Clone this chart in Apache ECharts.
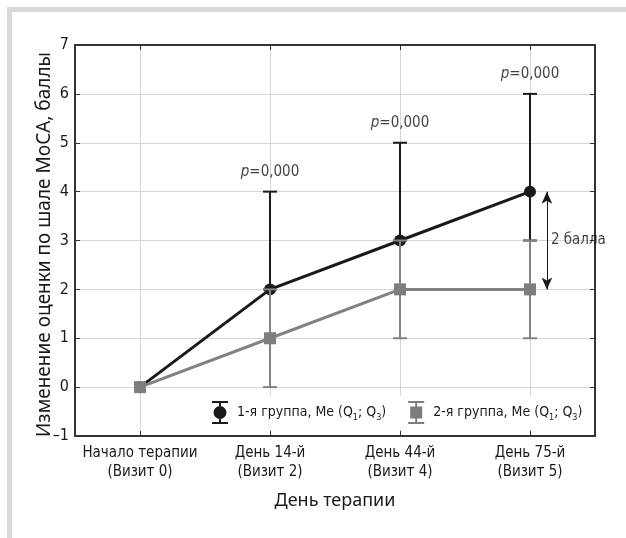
<!DOCTYPE html>
<html>
<head>
<meta charset="utf-8">
<script src="https://cdn.jsdelivr.net/npm/echarts@6/dist/echarts.min.js"></script>
<style>
    html, body { margin: 0; padding: 0; background: #fff; }
    #chart { width: 626px; height: 538px; }
</style>
</head>
<body>
<div id="chart"></div>
<script>
    // данные
    var days = ['Начало терапии\n(Визит 0)', 'День 14-й\n(Визит 2)', 'День 44-й\n(Визит 4)', 'День 75-й\n(Визит 5)'];
    var dayPos = [0, 1, 2, 3];
    var group1Me = [0, 2, 3, 4];
    var group1Q1 = [0, 2, 3, 3];
    var group1Q3 = [0, 4, 5, 6];
    var group2Me = [0, 1, 2, 2];
    var group2Q1 = [0, 0, 1, 1];
    var group2Q3 = [0, 2, 3, 3];
    var pValues = [null, '0,000', '0,000', '0,000'];
    var group1Name = '1-я группа, Me (Q1; Q3)';
    var group2Name = '2-я группа, Me (Q1; Q3)';

    var narrow = '"DejaVu Sans Condensed", "Liberation Sans Narrow", sans-serif';
    var regular = '"Noto Sans", "Open Sans", sans-serif';
    var black = '#1a1a1a';
    var gray = '#828282';

    function errData(me, q1, q3) {
        var res = [];
        for (var i = 0; i < me.length; i++) {
            res.push([dayPos[i], q1[i], q3[i]]);
        }
        return res;
    }

    function errRender(color) {
        return function (params, api) {
            var x = api.value(0);
            var lo = api.coord([x, api.value(1)]);
            var hi = api.coord([x, api.value(2)]);
            if (lo[1] - hi[1] < 1) return;
            var w = 7;
            var st = { stroke: color, lineWidth: 2 };
            return {
                type: 'group',
                children: [
                    { type: 'line', shape: { x1: lo[0], y1: lo[1], x2: hi[0], y2: hi[1] }, style: st },
                    { type: 'line', shape: { x1: lo[0] - w, y1: lo[1], x2: lo[0] + w, y2: lo[1] }, style: st },
                    { type: 'line', shape: { x1: hi[0] - w, y1: hi[1], x2: hi[0] + w, y2: hi[1] }, style: st }
                ]
            };
        };
    }

    function pairs(arr) {
        return arr.map(function (v, i) { return [dayPos[i], v]; });
    }

    var pData = [];
    for (var i = 0; i < pValues.length; i++) {
        if (pValues[i] != null) pData.push({ value: [dayPos[i], group1Q3[i]], pv: pValues[i] });
    }

    var icon1 = 'path://M0,0H16V2H0Z M0,21H16V23H0Z M7,2H9V5H7Z M7,18H9V21H7Z M1.5,11.5A6.5,6.5 0 1,0 14.5,11.5A6.5,6.5 0 1,0 1.5,11.5Z';
    var icon2 = 'path://M0,0H16V2H0Z M0,21H16V23H0Z M7,2H9V5.5H7Z M7,17.5H9V21H7Z M2,5.5H14V17.5H2Z';

    var axisLineStyle = { color: '#333', width: 2 };
    var tickStyle = { show: true, inside: true, length: 5, lineStyle: { color: '#333', width: 1 } };

    var chart = echarts.init(document.getElementById('chart'));
    chart.setOption({
        animation: false,
        graphic: [
            { type: 'rect', shape: { x: 7, y: 7, width: 619, height: 5 }, style: { fill: '#d9d9d9' } },
            { type: 'rect', shape: { x: 7, y: 7, width: 5, height: 531 }, style: { fill: '#d9d9d9' } }
        ],
        grid: { left: 75, top: 45, right: 31, bottom: 102 },
        legend: {
            left: 205,
            top: 396,
            width: 400,
            orient: 'horizontal',
            padding: [5, 6, 5, 7],
            backgroundColor: '#fff',
            itemWidth: 16,
            itemHeight: 23,
            itemGap: 22,
            itemStyle: { borderWidth: 0 },
            data: [
                { name: group1Name, icon: icon1 },
                { name: group2Name, icon: icon2 }
            ],
            formatter: function (name) {
                return name.replace(/Q(\d)/g, 'Q{s|$1}');
            },
            textStyle: {
                fontFamily: narrow,
                fontSize: 14,
                color: '#1a1a1a',
                lineHeight: 20,
                padding: [0, 0, 0, 4],
                rich: {
                    s: { fontFamily: narrow, fontSize: 9, verticalAlign: 'bottom', lineHeight: 12, color: '#1a1a1a' }
                }
            }
        },
        xAxis: [
            {
                type: 'value', position: 'bottom', min: -0.5, max: 3.5,
                name: 'День терапии', nameLocation: 'middle', nameGap: 56, nameMoveOverlap: false,
                nameTextStyle: { fontFamily: regular, fontSize: 18, color: '#1a1a1a' },
                axisLine: { show: true, onZero: false, lineStyle: axisLineStyle },
                axisTick: Object.assign({ customValues: dayPos }, tickStyle),
                axisLabel: {
                    customValues: dayPos,
                    formatter: function (v) { return days[Math.round(v)]; },
                    fontFamily: narrow, fontSize: 15, color: '#1a1a1a', lineHeight: 19, margin: 8
                },
                splitLine: { show: true, lineStyle: { color: '#d6d6d6', width: 1 } }
            },
            {
                type: 'value', position: 'top', min: -0.5, max: 3.5,
                axisLine: { show: true, onZero: false, lineStyle: axisLineStyle },
                axisTick: Object.assign({ customValues: dayPos }, tickStyle),
                axisLabel: { show: false },
                splitLine: { show: false }
            }
        ],
        yAxis: [
            {
                type: 'value', position: 'left', min: -1, max: 7, interval: 1,
                name: 'Изменение оценки по шале MoCA, баллы', nameLocation: 'middle', nameGap: 21, nameMoveOverlap: false,
                nameTextStyle: { fontFamily: regular, fontSize: 19, color: '#1a1a1a', padding: [0, 8, 0, 0] },
                axisLine: { show: true, onZero: false, lineStyle: axisLineStyle },
                axisTick: tickStyle,
                axisLabel: {
                    formatter: function (v) { return v < 0 ? '–' + Math.abs(v) : String(v); },
                    fontFamily: narrow, fontSize: 16, color: '#1a1a1a', margin: 6
                },
                splitLine: { show: true, lineStyle: { color: '#d6d6d6', width: 1 } }
            },
            {
                type: 'value', position: 'right', min: -1, max: 7, interval: 1,
                axisLine: { show: true, onZero: false, lineStyle: axisLineStyle },
                axisTick: tickStyle,
                axisLabel: { show: false },
                splitLine: { show: false }
            }
        ],
        series: [
            {
                name: 'err1', type: 'custom', z: 1,
                renderItem: errRender(black),
                data: errData(group1Me, group1Q1, group1Q3)
            },
            {
                name: group1Name, type: 'line', z: 2,
                data: pairs(group1Me),
                symbol: 'circle', symbolSize: 12,
                lineStyle: { color: black, width: 3 },
                itemStyle: { color: black }
            },
            {
                name: 'err2', type: 'custom', z: 3,
                renderItem: errRender(gray),
                data: errData(group2Me, group2Q1, group2Q3)
            },
            {
                name: group2Name, type: 'line', z: 4,
                data: pairs(group2Me),
                symbol: 'rect', symbolSize: 12,
                lineStyle: { color: gray, width: 3 },
                itemStyle: { color: '#7d7d7d' }
            },
            {
                name: 'p', type: 'scatter', z: 5, symbolSize: 0,
                data: pData,
                label: {
                    show: true, position: 'top', distance: 12,
                    formatter: function (p) { return '{i|p}=' + p.data.pv; },
                    fontFamily: narrow, fontSize: 15, color: '#111',
                    rich: { i: { fontFamily: narrow, fontSize: 15, fontStyle: 'italic', color: '#111' } }
                }
            },
            {
                name: 'diff', type: 'scatter', z: 5, symbolSize: 0,
                data: [[3.13, (group1Me[3] + group2Me[3]) / 2]],
                label: {
                    show: true, position: 'right', distance: 4,
                    formatter: (group1Me[3] - group2Me[3]) + ' балла',
                    fontFamily: narrow, fontSize: 15, color: '#111'
                },
                markLine: {
                    silent: true,
                    symbol: ['arrow', 'arrow'],
                    symbolSize: [8, 12],
                    label: { show: false },
                    lineStyle: { color: black, width: 1, type: 'solid' },
                    data: [[{ coord: [3.13, group2Me[3]] }, { coord: [3.13, group1Me[3]] }]]
                }
            }
        ]
    });
</script>
</body>
</html>
